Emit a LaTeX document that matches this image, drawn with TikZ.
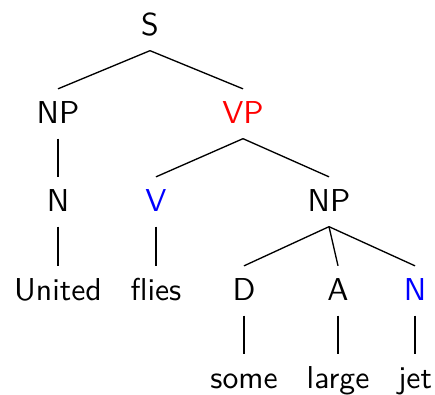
\documentclass[tikz,border=0pt]{standalone}
\usepackage{tikz}
\renewcommand{\familydefault}{\sfdefault}

\begin{document}
\begin{tikzpicture}[x=0.3pt,y=-0.3pt,line width=0.4pt,
		cat/.style={anchor=base,inner sep=3.3pt,text height=6.75pt,text depth=1.2pt,font=\fontsize{9.5}{11}\selectfont},
		redcat/.style={cat,text=red},
		bluecat/.style={cat,text=blue}]
		\useasboundingbox (0,0) rectangle (435,394);

		\node[cat]		(0)		at (150,35)		{S};
		\node[cat]		(1)		at (58,123)		{NP};
		\node[redcat]	(2)		at (243,123)	{VP};
		\node[cat]		(3)		at (58,211)		{N};
		\node[bluecat]	(4)		at (156,211)	{V};
		\node[cat]		(5)		at (329,211)	{NP};
		\node[cat]		(6)		at (58,300)		{United};
		\node[cat]		(7)		at (156,300)	{flies};
		\node[cat]		(8)		at (244,300)	{D};
		\node[cat]		(9)		at (338,300)	{A};
		\node[bluecat]	(10)	at (415,300)	{N};
		\node[cat]		(11)	at (244,388)	{some};
		\node[cat]		(12)	at (338,388)	{large};
		\node[cat]		(13)	at (415,388)	{jet};

		\draw (0.south) -- (1.north);
		\draw (0.south) -- (2.north);
		\draw (1.south) -- (3.north);
		\draw (2.south) -- (4.north);
		\draw (2.south) -- (5.north);
		\draw (3.south) -- (6.north);
		\draw (4.south) -- (7.north);
		\draw (5.south) -- (8.north);
		\draw (5.south) -- (9.north);
		\draw (5.south) -- (10.north);
		\draw (8.south) -- (11.north);
		\draw (9.south) -- (12.north);
		\draw (10.south) -- (13.north);
	\end{tikzpicture}
\end{document}
